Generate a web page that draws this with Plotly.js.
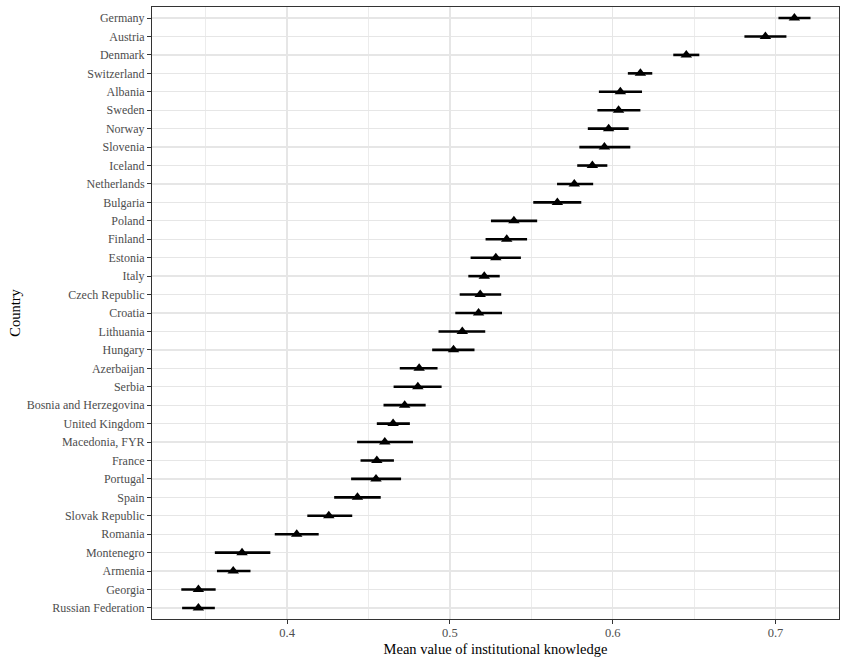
<!DOCTYPE html>
<html>
<head>
<meta charset="utf-8">
<script src="https://cdn.plot.ly/plotly-3.0.1.min.js"></script>
<style>html,body{margin:0;padding:0;background:#fff;}#chart{width:841px;height:661px;}</style>
</head>
<body>
<div id="chart"></div>
<script>
const countries = ["Germany","Austria","Denmark","Switzerland","Albania","Sweden","Norway","Slovenia","Iceland","Netherlands","Bulgaria","Poland","Finland","Estonia","Italy","Czech Republic","Croatia","Lithuania","Hungary","Azerbaijan","Serbia","Bosnia and Herzegovina","United Kingdom","Macedonia, FYR","France","Portugal","Spain","Slovak Republic","Romania","Montenegro","Armenia","Georgia","Russian Federation"];
const meanValue = [0.7116,0.6938,0.6452,0.6170,0.6047,0.6036,0.5975,0.5949,0.5875,0.5764,0.5660,0.5393,0.5349,0.5282,0.5211,0.5186,0.5176,0.5076,0.5022,0.4811,0.4803,0.4722,0.4651,0.4600,0.4551,0.4546,0.4432,0.4256,0.4059,0.3723,0.3669,0.3455,0.3455];
const lowerCI = [0.7018,0.6809,0.6372,0.6093,0.5915,0.5906,0.5847,0.5795,0.5782,0.5658,0.5512,0.5252,0.5219,0.5127,0.5113,0.5060,0.5033,0.4930,0.4891,0.4692,0.4654,0.4592,0.4551,0.4430,0.4451,0.4393,0.4289,0.4124,0.3924,0.3556,0.3569,0.3350,0.3355];
const upperCI = [0.7215,0.7067,0.6532,0.6243,0.6180,0.6170,0.6098,0.6108,0.5967,0.5880,0.5807,0.5536,0.5474,0.5436,0.5306,0.5315,0.5320,0.5217,0.5151,0.4924,0.4949,0.4851,0.4754,0.4773,0.4656,0.4700,0.4575,0.4400,0.4194,0.3897,0.3775,0.3561,0.3556];
const xTicks = [0.4,0.5,0.6,0.7];
const xTickLabels = ["0.4","0.5","0.6","0.7"];

const trace = {
  type: "scatter",
  mode: "markers",
  x: meanValue,
  y: countries,
  marker: {symbol: "triangle-up", size: 10, color: "#000000"},
  error_x: {
    type: "data",
    symmetric: false,
    array: upperCI.map((u, i) => u - meanValue[i]),
    arrayminus: meanValue.map((m, i) => m - lowerCI[i]),
    color: "#000000",
    thickness: 2.6,
    width: 0
  },
  hoverinfo: "x+y"
};

const layout = {
  width: 841,
  height: 661,
  margin: {l: 152, r: 2, t: 7, b: 42},
  paper_bgcolor: "#ffffff",
  plot_bgcolor: "#ffffff",
  showlegend: false,
  font: {family: "Liberation Serif, Times New Roman, serif", color: "#000000"},
  xaxis: {
    range: [0.317, 0.739],
    tickvals: xTicks,
    ticktext: xTickLabels,
    ticks: "outside",
    ticklen: 4,
    tickcolor: "#333333",
    tickfont: {size: 12.5, color: "#4D4D4D"},
    ticklabelstandoff: -2,
    showgrid: true,
    gridcolor: "#E6E6E6",
    gridwidth: 1.3,
    minor: {dtick: 0.1, tick0: 0.35, showgrid: true, gridcolor: "#ECECEC", gridwidth: 1, ticks: ""},
    zeroline: false,
    showline: true,
    linecolor: "#333333",
    linewidth: 1,
    mirror: true,
    title: {text: "Mean value of institutional knowledge", font: {size: 14.5, color: "#000000"}, standoff: 4}
  },
  yaxis: {
    type: "category",
    categoryorder: "array",
    categoryarray: countries,
    range: [32.6, -0.6],
    ticks: "outside",
    ticklen: 4,
    tickcolor: "#333333",
    tickfont: {size: 12, color: "#4D4D4D"},
    showgrid: true,
    gridcolor: "#E6E6E6",
    gridwidth: 1.3,
    zeroline: false,
    showline: true,
    linecolor: "#333333",
    linewidth: 1,
    mirror: true,
    title: {text: "Country", font: {size: 14.5, color: "#000000"}, standoff: 2}
  }
};

Plotly.newPlot("chart", [trace], layout, {displayModeBar: false, staticPlot: true});
</script>
</body>
</html>
